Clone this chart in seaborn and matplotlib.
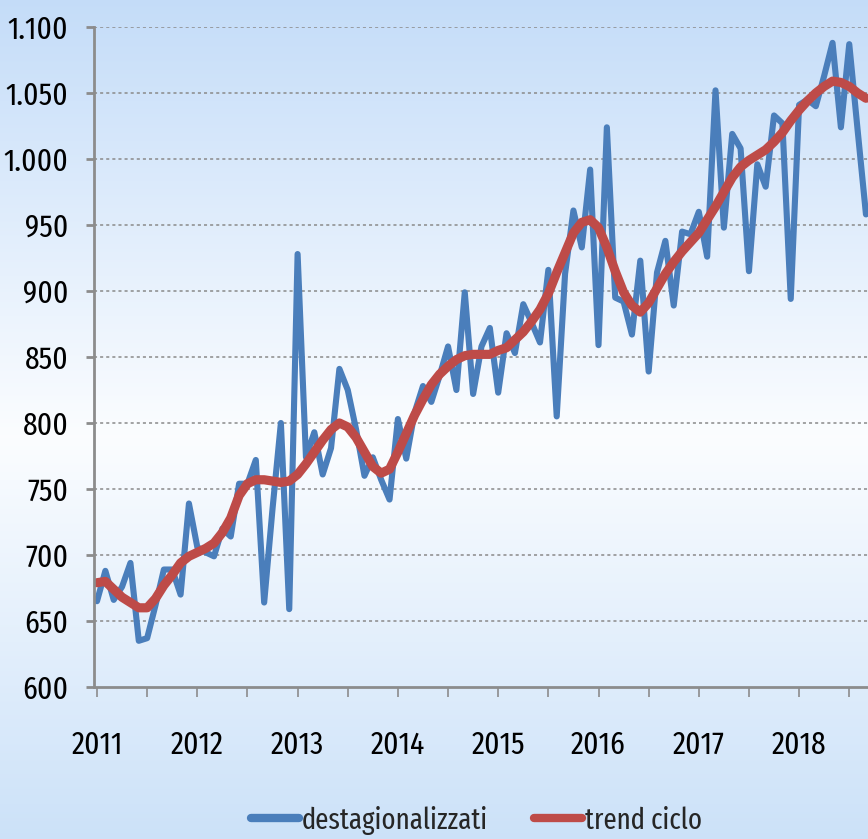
import numpy as np
import pandas as pd
import matplotlib
matplotlib.use("Agg")
import matplotlib.pyplot as plt
from matplotlib.ticker import FuncFormatter, FixedLocator
import seaborn as sns

# ---------------- data ----------------
start_year = 2011
destagionalizzati = [
    665, 688, 666, 676, 694, 635, 637, 662, 689, 689, 670, 739,
    706, 702, 699, 720, 714, 754, 754, 772, 664, 735, 800, 659,
    928, 774, 793, 761, 781, 841, 825, 795, 760, 774, 757, 742,
    803, 773, 808, 828, 816, 836, 858, 825, 899, 822, 858, 872,
    823, 868, 853, 890, 876, 861, 916, 805, 913, 961, 933, 992,
    859, 1024, 895, 892, 867, 923, 839, 914, 938, 889, 945, 943,
    960, 926, 1052, 948, 1019, 1008, 915, 996, 979, 1033, 1027, 894,
    1041, 1045, 1040, 1063, 1088, 1024, 1087, 1022, 958,
]
trend_ciclo = [
    679, 680, 674, 668, 664, 660, 660, 667, 677, 685, 694, 699,
    702, 705, 709, 717, 728, 745, 754, 757, 757, 756, 755, 756,
    761, 769, 778, 787, 795, 800, 797, 789, 778, 767, 762, 765,
    778, 792, 806, 818, 829, 837, 843, 848, 851, 852, 852, 852,
    855, 857, 863, 869, 877, 886, 898, 914, 929, 944, 952, 954,
    948, 933, 915, 899, 889, 884, 891, 902, 913, 922, 930, 937,
    944, 954, 964, 975, 986, 994, 999, 1003, 1007, 1013, 1020, 1029,
    1037, 1044, 1050, 1055, 1059, 1058, 1055, 1050, 1046,
]
series_labels = ["destagionalizzati", "trend ciclo"]
year_ticks = [2011, 2012, 2013, 2014, 2015, 2016, 2017, 2018]
year_labels = ["2011", "2012", "2013", "2014", "2015", "2016", "2017", "2018"]
y_ticks = [600, 650, 700, 750, 800, 850, 900, 950, 1000, 1050, 1100]

n = len(destagionalizzati)
t = [start_year + i / 12 for i in range(n)]
df = pd.DataFrame({"t": t, series_labels[0]: destagionalizzati, series_labels[1]: trend_ciclo})

# ---------------- style ----------------
sns.set_style("white")
FONT = ["Fira Sans Extra Condensed", "DejaVu Sans"]
plt.rcParams["font.family"] = FONT
FS = 23
LFS = 21

W, H = 868, 839
fig = plt.figure(figsize=(W / 100, H / 100), dpi=100)

# gradient background
bg = fig.add_axes([0, 0, 1, 1], zorder=-10)
top_c = np.array([0.77, 0.865, 0.975])
mid_c = np.array([0.985, 0.992, 1.0])
bot_c = np.array([0.80, 0.885, 0.975])
yy = np.linspace(0, 1, 400)
cols = np.zeros((400, 1, 3))
for i, v in enumerate(yy):
    if v < 0.52:
        f = v / 0.52
        cols[i, 0] = top_c * (1 - f) + mid_c * f
    else:
        f = (v - 0.52) / 0.48
        cols[i, 0] = mid_c * (1 - f) + bot_c * f
bg.imshow(cols, aspect="auto", extent=[0, 1, 0, 1], interpolation="bilinear")
bg.axis("off")

left = 93.5 / W
bottom = 1 - 687 / H
top = 1 - 27 / H
ax = fig.add_axes([left, bottom, 1 - left, top - bottom])
ax.set_facecolor("none")

blue = "#4a7ebb"
red = "#be4b48"

sns.lineplot(data=df, x="t", y=series_labels[0], ax=ax, color=blue, linewidth=4.4,
             label=series_labels[0], solid_joinstyle="round", solid_capstyle="round")
sns.lineplot(data=df, x="t", y=series_labels[1], ax=ax, color=red, linewidth=6.6,
             label=series_labels[1], solid_joinstyle="round", solid_capstyle="round")

px_per_year = 100.3
x_left = 2011 - (97 - 93.5) / px_per_year
x_right = x_left + (W - 93.5) / px_per_year
ax.set_xlim(x_left, x_right)
ax.set_ylim(600, 1100)

ax.set_xlabel("")
ax.set_ylabel("")

# grid
for v in y_ticks[1:]:
    ax.axhline(v, color="#8a8a8a", linewidth=1.1, linestyle=(0, (2, 2)), zorder=0)

# spines
for s in ["top", "right"]:
    ax.spines[s].set_visible(False)
for s in ["left", "bottom"]:
    ax.spines[s].set_color("#8c8c8c")
    ax.spines[s].set_linewidth(2)

ax.yaxis.set_major_locator(FixedLocator(y_ticks))
ax.yaxis.set_major_formatter(FuncFormatter(lambda v, p: f"{int(round(v)):,}".replace(",", ".")))
ax.xaxis.set_major_locator(FixedLocator(year_ticks))
ax.set_xticklabels(year_labels)
ax.xaxis.set_minor_locator(FixedLocator([y + 0.5 for y in year_ticks]))

ax.tick_params(axis="y", which="major", direction="out", length=6, width=2, color="#8c8c8c",
               pad=12, labelsize=FS, labelcolor="black", left=True)
ax.tick_params(axis="x", which="major", direction="out", length=7, width=1.2, color="#8c8c8c",
               pad=24, labelsize=FS, labelcolor="black", bottom=True)
ax.tick_params(axis="x", which="minor", direction="out", length=7, width=1.2, color="#8c8c8c",
               bottom=True)

handles, labels = ax.get_legend_handles_labels()
if ax.get_legend() is not None:
    ax.get_legend().remove()
leg = fig.legend(handles, labels, loc="center", bbox_to_anchor=(0.549, 0.0225), ncol=2,
                 frameon=False, fontsize=LFS, handlelength=1.65, handletextpad=0.12,
                 columnspacing=1.55)
for l in leg.get_lines():
    l.set_linewidth(6)
    l.set_solid_capstyle("round")

fig.savefig("out.png", dpi=100)
